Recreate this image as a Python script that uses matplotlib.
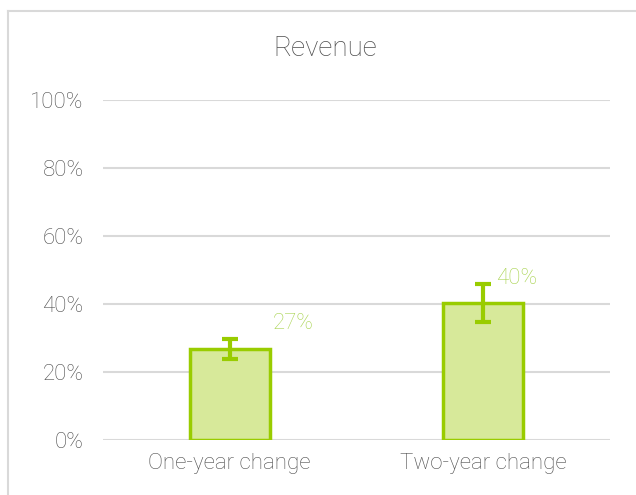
import matplotlib
matplotlib.use("agg")
from matplotlib import pyplot as plt
from matplotlib.lines import Line2D

categories = ["One-year change", "Two-year change"]
values = [26.8, 40.3]
errors = [3.0, 5.6]
labels = ["27%", "40%"]
yticks = [0, 20, 40, 60, 80, 100]

# where Excel left the data labels (x offset in category units, y in %)
label_dx = [0.17, 0.05]
label_y = [34.4, 47.6]

plt.rcParams['font.family'] = ['Roboto', 'DejaVu Sans']

fig = plt.figure(figsize=(6.36, 4.95), dpi=100)
ax = fig.add_axes([103/636, 1 - 440/495, 507/636, 340/495])

x = range(len(categories))
ax.bar(x, values, width=0.316, color="#d7e99a", edgecolor="#99cc00", linewidth=2.5, zorder=3)
ax.errorbar(x, values, yerr=errors, fmt="none", ecolor="#99cc00", elinewidth=3,
	capsize=6, capthick=3, zorder=4)

for i in x:
	ax.text(i + label_dx[i], label_y[i], labels[i], color="#a8d34f",
		fontsize=16, fontweight="light", ha="left", va="center")

ax.set_xlim(-0.5, 1.5)
ax.set_ylim(0, 100)
ax.set_yticks(yticks)
ax.set_yticklabels([str(t) + "%" for t in yticks])
ax.set_xticks(list(x))
ax.set_xticklabels(categories)
ax.tick_params(length=0, labelsize=16, labelcolor="#4d4d4d", pad=9)
ax.tick_params(axis="y", pad=14)
for lab in ax.get_xticklabels() + ax.get_yticklabels():
	lab.set_fontweight("light")
ax.yaxis.grid(True, color="#d9d9d9", linewidth=1.5, zorder=0)
for s in ax.spines.values():
	s.set_visible(False)

fig.text(325/636, 1 - 48/495, "Revenue", ha="center", va="center", fontsize=20,
	color="#4d4d4d", fontweight="light")

# chart border
fig.add_artist(Line2D([8/636, 8/636], [0, 1 - 11/495], color="#d9d9d9", linewidth=1.5))
fig.add_artist(Line2D([8/636, 1], [1 - 11/495, 1 - 11/495], color="#d9d9d9", linewidth=1.5))

plt.savefig("out.png")
